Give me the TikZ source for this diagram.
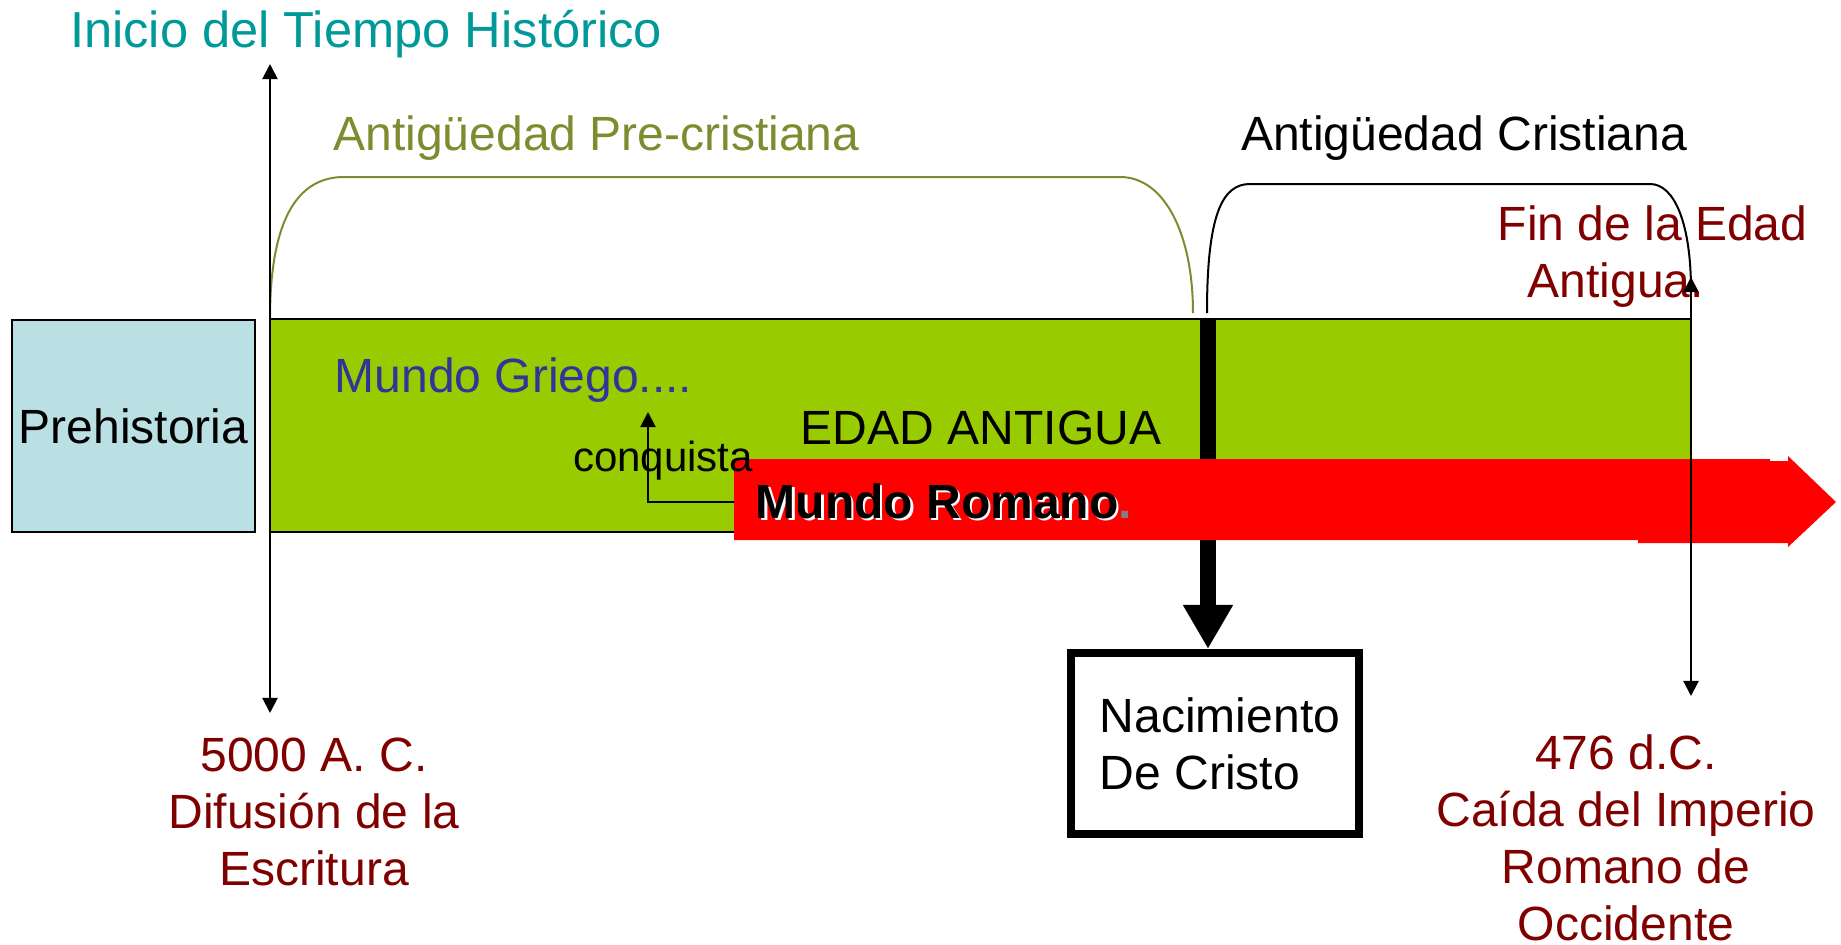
\documentclass[tikz,border=0pt]{standalone}
\usepackage{fontspec}
\setmainfont{Liberation Sans}
\usetikzlibrary{arrows.meta}

\definecolor{inicioteal}{RGB}{0,153,153}
\definecolor{preolive}{RGB}{128,138,46}
\definecolor{fechared}{RGB}{128,0,0}
\definecolor{griegoblue}{RGB}{51,51,153}
\definecolor{antiguagreen}{RGB}{153,204,0}
\definecolor{prehistblue}{RGB}{187,224,227}
\definecolor{romared}{RGB}{255,0,0}

\begin{document}
\begin{tikzpicture}[x = 0.01cm, y = -0.01cm,
        txt/.style = {font = \fontsize{13.66}{16.2}\selectfont, inner sep = 0pt},
        small/.style = {font = \fontsize{11.95}{14}\selectfont, inner sep = 0pt},
        thin/.style = {line width = 0.02cm},
        twoway/.style = {arrows = {Triangle[length = 0.15cm, width = 0.15cm]-Triangle[length = 0.15cm, width = 0.15cm]}},
        oneway/.style = {arrows = {-Triangle[length = 0.15cm, width = 0.15cm]}}]
        \useasboundingbox (0, 0) rectangle (1841, 945);
        % bloques de la linea de tiempo
        \node (prehist) [draw, thin, fill = prehistblue, minimum width = 2.43cm, minimum height = 2.12cm, txt] at (133.5, 426) {Prehistoria};
        \node (bar) [draw, thin, fill = antiguagreen, minimum width = 14.21cm, minimum height = 2.13cm] at (980.5, 425.5) {};
        \node (nac) [draw, line width = 0.08cm, minimum width = 2.88cm, minimum height = 1.81cm, txt, align = left] at (1215, 743.5) {\hspace*{0.1cm}Nacimiento\\\hspace*{0.1cm}De Cristo};
        \coordinate (cristo) at (1208, 319);
        \draw [line width = 0.16cm, -{Triangle[length = 0.44cm, width = 0.47cm]}] (cristo) -- (cristo |- nac.north);
        % flecha del mundo romano
        \fill [romared] (734, 459) -- (1770, 459) -- (1770, 461) -- (1788, 461) -- (1788, 456) -- (1836, 502) -- (1788, 547) -- (1788, 543) -- (1638, 543) -- (1638, 540) -- (734, 540) -- cycle;
        \coordinate (romstart) at (734, 502);
        \node (romashadow) [txt, text = white, anchor = base west] at (757.5, 520.5) {\bfseries Mundo Romano\phantom{.}};
        \node (roma) [txt, anchor = base west] at (755, 518) {\bfseries Mundo Romano{\color{gray}.}};
        % textos
        \node (inicio) [inner sep = 0pt, font = \fontsize{14.4}{17}\selectfont, text = inicioteal, anchor = base] at (366, 47) {Inicio del Tiempo Histórico};
        \node (precrist) [txt, text = preolive, anchor = base] at (596.5, 150) {Antigüedad Pre-cristiana};
        \node (crist) [txt, anchor = base] at (1464, 150) {Antigüedad Cristiana};
        \node (fin) [txt, text = fechared, align = left, anchor = base west] at (1497, 297) {Fin de la Edad\\\hspace*{0.3cm}Antigua.};
        \node (griego) [txt, text = griegoblue, anchor = base] at (513.5, 392) {Mundo Griego....};
        \node (edad) [txt, anchor = base] at (981, 444) {EDAD ANTIGUA};
        \node (conq) [small, anchor = base] at (663, 471) {conquista};
        \node (inicioyear) [txt, text = fechared, align = center, anchor = base] at (314, 885) {5000 A. C.\\Difusión de la\\Escritura};
        \node (finyear) [txt, text = fechared, align = center, anchor = base] at (1626, 940) {476 d.C.\\Caída del Imperio\\Romano de\\Occidente};
        % llaves
        \draw [thin, preolive] (270, 319) .. controls (270, 215) and (300, 177) .. (344, 177) -- (1120, 177) .. controls (1165, 177) and (1193, 235) .. (1193, 313);
        \draw [thin] (1207, 313) .. controls (1207, 215) and (1222, 184) .. (1250, 184) -- (1650, 184) .. controls (1675, 184) and (1691, 225) .. (1691, 290);
        % ejes
        \coordinate (axtop) at (270, 64);
        \coordinate (axbot) at (270, 713);
        \draw [thin, twoway] (axbot) -- (axtop);
        \coordinate (fintop) at (1691, 277);
        \coordinate (finbot) at (1691, 696);
        \draw [thin, twoway] (finbot) -- (fintop);
        \coordinate (griegotip) at (648, 412);
        \draw [thin, oneway] (romstart) -| (griegotip);
    \end{tikzpicture}
\end{document}
